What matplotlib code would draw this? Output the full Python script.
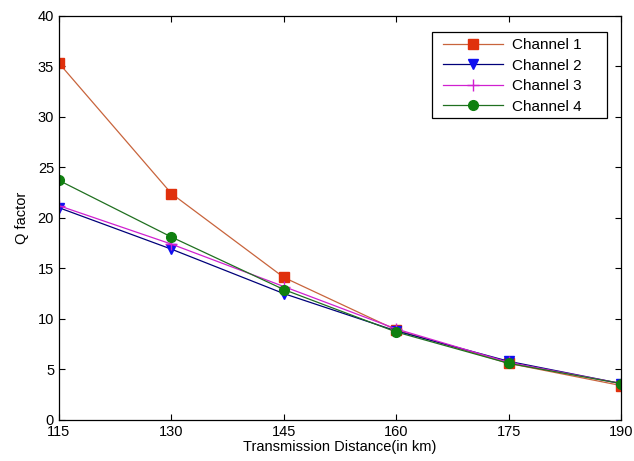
import numpy as np
import matplotlib.pyplot as plt
from matplotlib.patches import Rectangle

plt.rcParams['font.family'] = ['Liberation Sans', 'DejaVu Sans']

# Data
distance = [115, 130, 145, 160, 175, 190]
ch1 = [35.3, 22.4, 14.1, 8.9, 5.6, 3.4]
ch2 = [21.0, 16.9, 12.5, 8.8, 5.8, 3.6]
ch3 = [21.2, 17.4, 13.2, 9.0, 5.7, 3.6]
ch4 = [23.7, 18.1, 12.9, 8.7, 5.6, 3.6]

fig = plt.figure(figsize=(6.34, 4.61), dpi=100)
ax = fig.add_axes([0.093, 0.089, 0.887, 0.877])

ax.plot(distance, ch1, color='#c8643c', marker='s', markersize=7.5,
        markerfacecolor='#e0300c', markeredgecolor='#e0300c', linewidth=0.9, label='Channel 1')
ax.plot(distance, ch2, color='#00007a', marker='v', markersize=7.5,
        markerfacecolor='#1010f0', markeredgecolor='#1010f0', linewidth=0.9, label='Channel 2')
ax.plot(distance, ch3, color='#d020d0', marker='+', markersize=8,
        markeredgewidth=1.0, linewidth=0.9, label='Channel 3')
ax.plot(distance, ch4, color='#207020', marker='o', markersize=7,
        markerfacecolor='#108010', markeredgecolor='#108010', linewidth=0.9, label='Channel 4')

ax.set_xlim(115, 190)
ax.set_ylim(0, 40)
ax.set_xticks(distance)
ax.set_yticks(np.arange(0, 41, 5))
ax.tick_params(direction='in', top=True, right=True, labelsize=10.5, length=4)
for s in ax.spines.values():
    s.set_linewidth(0.9)

ax.set_xlabel('Transmission Distance(in km)', fontsize=10.5, labelpad=1)
ax.set_ylabel('Q factor', fontsize=10.5, labelpad=6)

# MATLAB-style legend box: wider than the entries
box = Rectangle((0.664, 0.747), 0.311, 0.213, transform=ax.transAxes,
                facecolor='white', edgecolor='black', linewidth=0.9, zorder=4)
ax.add_patch(box)
leg = ax.legend(loc='upper left', bbox_to_anchor=(0.683, 0.944), fontsize=11,
                frameon=False, handlelength=3.9, handletextpad=0.6,
                labelspacing=0.42, borderpad=0, borderaxespad=0)
leg.set_zorder(5)

fig.savefig('out.png', dpi=100)
